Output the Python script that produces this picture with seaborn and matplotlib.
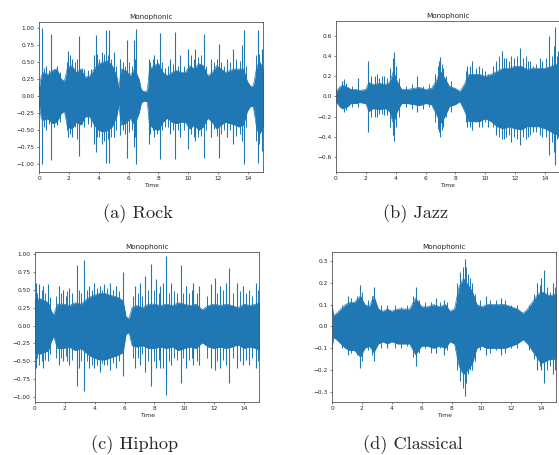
"""
Monophonic waveforms for four genres, drawn as amplitude envelopes plus peaks
"""

import matplotlib
matplotlib.use("Agg")
import matplotlib.pyplot as plt
import seaborn as sns

# Rock: envelope breakpoints (time in s, upper and lower amplitude)
rock_t = [0, 0.15, 0.3, 0.6, 0.9, 1.2, 1.5, 1.7, 1.9, 2.2, 2.5, 2.8, 3.1, 3.4, 3.7,
          4.0, 4.3, 4.6, 4.9, 5.2, 5.35, 5.5, 5.8, 6.1, 6.4, 6.7, 6.85, 7.0, 7.25, 7.4,
          7.7, 8.0, 8.3, 8.6, 8.9, 9.2, 9.5, 9.8, 10.1, 10.4, 10.7, 11.0, 11.3, 11.6,
          11.9, 12.2, 12.5, 12.8, 13.1, 13.4, 13.7, 13.95, 14.15, 14.35, 14.6, 14.8, 15.0]
rock_hi = [0.10, 0.30, 0.35, 0.32, 0.38, 0.40, 0.25, 0.22, 0.42, 0.45, 0.35, 0.40, 0.28,
           0.30, 0.40, 0.48, 0.50, 0.52, 0.45, 0.30, 0.12, 0.40, 0.38, 0.30, 0.40, 0.25,
           0.10, 0.07, 0.08, 0.40, 0.45, 0.48, 0.35, 0.30, 0.35, 0.38, 0.35, 0.35, 0.45,
           0.40, 0.48, 0.45, 0.30, 0.35, 0.45, 0.40, 0.35, 0.38, 0.40, 0.40, 0.40, 0.22,
           0.15, 0.15, 0.45, 0.50, 0.40]
rock_lo = [-0.10, -0.32, -0.35, -0.33, -0.40, -0.38, -0.25, -0.22, -0.45, -0.48, -0.38,
           -0.42, -0.30, -0.30, -0.42, -0.50, -0.52, -0.50, -0.45, -0.30, -0.12, -0.42,
           -0.40, -0.32, -0.42, -0.25, -0.10, -0.07, -0.08, -0.42, -0.48, -0.50, -0.38,
           -0.32, -0.38, -0.40, -0.38, -0.38, -0.48, -0.42, -0.50, -0.45, -0.32, -0.38,
           -0.48, -0.42, -0.38, -0.40, -0.42, -0.45, -0.42, -0.22, -0.15, -0.15, -0.50,
           -0.55, -0.45]
rock_spike_t = [0.18, 0.5, 0.8, 1.2, 1.97, 2.2, 2.68, 3.0, 3.65, 3.8, 4.2, 4.47, 4.7, 5.0,
                5.44, 5.88, 6.33, 6.51, 7.34, 7.7, 8.08, 8.8, 9.13, 9.46, 9.98, 10.47,
                11.03, 11.5, 12.04, 12.6, 13.0, 13.6, 13.71, 14.65, 14.9]
rock_spike_up = [1.0, 0.45, 0.92, 0.45, 0.67, 0.55, 0.88, 0.40, 0.60, 0.90, 0.65, 0.97,
                 0.97, 0.65, 0.55, 0.82, 0.82, 0.98, 0.55, 0.60, 0.93, 0.55, 0.95, 0.60,
                 0.70, 0.70, 0.92, 0.55, 0.77, 0.55, 0.70, 0.75, 0.97, 0.97, 0.70]
rock_spike_dn = [-1.0, -0.50, -0.93, -0.42, -0.60, -0.60, -0.87, -0.45, -0.70, -0.82,
                 -0.70, -0.98, -0.98, -0.60, -0.57, -0.90, -0.75, -1.0, -0.70, -0.60,
                 -0.92, -0.55, -0.92, -0.60, -0.78, -0.65, -0.90, -0.60, -0.90, -0.60,
                 -0.70, -0.65, -1.0, -0.98, -0.80]
# smaller peaks that roughen the body
rock_mid_t = [0.35, 0.65, 1.0, 1.4, 1.85, 2.1, 2.4, 2.55, 2.9, 3.3, 3.5, 3.9, 4.05, 4.35,
              4.6, 4.85, 5.15, 5.6, 5.75, 6.05, 6.2, 6.42, 7.45, 7.6, 7.9, 8.25, 8.45,
              8.65, 9.0, 9.3, 9.7, 10.2, 10.35, 10.65, 10.85, 11.2, 11.7, 11.9, 12.2,
              12.4, 12.8, 13.2, 13.45, 13.85, 14.5, 14.75, 15.0]
rock_mid_up = [0.42, 0.38, 0.40, 0.35, 0.50, 0.60, 0.50, 0.55, 0.42, 0.38, 0.40, 0.62,
               0.55, 0.62, 0.60, 0.55, 0.45, 0.50, 0.45, 0.50, 0.45, 0.55, 0.50, 0.55,
               0.55, 0.50, 0.42, 0.45, 0.48, 0.45, 0.45, 0.60, 0.55, 0.58, 0.60, 0.45,
               0.50, 0.55, 0.50, 0.45, 0.50, 0.55, 0.52, 0.45, 0.60, 0.62, 0.55]
rock_mid_dn = [-0.45, -0.40, -0.45, -0.38, -0.50, -0.55, -0.45, -0.62, -0.40, -0.40,
               -0.45, -0.60, -0.60, -0.65, -0.62, -0.60, -0.50, -0.50, -0.55, -0.52,
               -0.50, -0.60, -0.55, -0.50, -0.55, -0.50, -0.45, -0.45, -0.50, -0.50,
               -0.50, -0.55, -0.60, -0.60, -0.58, -0.50, -0.48, -0.58, -0.55, -0.50,
               -0.50, -0.58, -0.55, -0.45, -0.65, -0.70, -0.60]

# Jazz
jazz_t = [0, 0.3, 0.5, 0.8, 1.0, 1.3, 1.6, 2.0, 2.2, 2.5, 2.9, 3.3, 3.6, 3.85, 4.1, 4.4,
          4.8, 5.2, 5.6, 6.0, 6.4, 6.7, 7.0, 7.3, 7.6, 8.0, 8.3, 8.6, 8.9, 9.2, 9.6, 10.0,
          10.4, 10.8, 11.2, 11.6, 12.0, 12.4, 12.8, 13.2, 13.6, 14.0, 14.4, 14.7, 15.0]
jazz_hi = [0.05, 0.10, 0.11, 0.09, 0.07, 0.07, 0.06, 0.07, 0.14, 0.12, 0.13, 0.12, 0.14,
           0.25, 0.15, 0.07, 0.07, 0.08, 0.09, 0.07, 0.08, 0.15, 0.25, 0.18, 0.10, 0.08,
           0.05, 0.12, 0.22, 0.22, 0.22, 0.20, 0.22, 0.25, 0.28, 0.28, 0.30, 0.30, 0.27,
           0.28, 0.28, 0.28, 0.30, 0.32, 0.30]
jazz_lo = [-0.05, -0.11, -0.12, -0.10, -0.07, -0.07, -0.06, -0.07, -0.15, -0.12, -0.13,
           -0.12, -0.15, -0.27, -0.15, -0.07, -0.07, -0.08, -0.09, -0.07, -0.08, -0.17,
           -0.27, -0.20, -0.10, -0.08, -0.05, -0.14, -0.25, -0.25, -0.25, -0.22, -0.25,
           -0.30, -0.32, -0.30, -0.32, -0.33, -0.30, -0.30, -0.30, -0.32, -0.35, -0.38,
           -0.35]
jazz_spike_t = [0.4, 0.56, 1.45, 2.15, 2.6, 2.9, 3.2, 3.8, 3.9, 4.0, 5.4, 6.9, 6.95, 7.2,
                8.8, 9.14, 9.6, 10.2, 10.7, 11.1, 11.4, 11.75, 12.3, 12.86, 13.2, 13.64,
                14.27, 14.7, 14.9]
jazz_spike_up = [0.15, 0.17, 0.18, 0.35, 0.20, 0.18, 0.20, 0.38, 0.44, 0.30, 0.20, 0.35,
                 0.39, 0.28, 0.30, 0.35, 0.30, 0.22, 0.35, 0.45, 0.38, 0.40, 0.48, 0.35,
                 0.30, 0.38, 0.60, 0.69, 0.45]
jazz_spike_dn = [-0.12, -0.15, -0.10, -0.35, -0.20, -0.17, -0.18, -0.38, -0.44, -0.30,
                 -0.15, -0.35, -0.40, -0.30, -0.30, -0.33, -0.30, -0.30, -0.38, -0.42,
                 -0.40, -0.45, -0.48, -0.40, -0.35, -0.38, -0.58, -0.68, -0.40]
jazz_mid_t = [0.7, 1.1, 2.35, 2.75, 3.05, 3.45, 3.65, 4.2, 4.7, 5.1, 5.8, 6.2, 6.6, 6.8,
              7.1, 7.4, 7.7, 8.7, 9.0, 9.35, 9.8, 10.0, 10.5, 10.9, 11.25, 11.6, 11.9,
              12.1, 12.5, 12.7, 13.0, 13.4, 13.8, 14.05, 14.45, 14.6, 14.8]
jazz_mid_up = [0.13, 0.10, 0.20, 0.22, 0.20, 0.18, 0.28, 0.18, 0.10, 0.12, 0.10, 0.12,
               0.22, 0.30, 0.32, 0.20, 0.15, 0.25, 0.30, 0.28, 0.28, 0.25, 0.30, 0.40,
               0.38, 0.35, 0.38, 0.40, 0.38, 0.40, 0.35, 0.32, 0.35, 0.38, 0.40, 0.50,
               0.40]
jazz_mid_dn = [-0.13, -0.10, -0.20, -0.20, -0.17, -0.18, -0.30, -0.20, -0.10, -0.12,
               -0.12, -0.10, -0.25, -0.32, -0.33, -0.20, -0.15, -0.25, -0.30, -0.25,
               -0.30, -0.25, -0.30, -0.40, -0.42, -0.38, -0.40, -0.42, -0.40, -0.42,
               -0.38, -0.35, -0.40, -0.40, -0.45, -0.55, -0.42]

# Hiphop
hiphop_t = [0, 0.3, 0.6, 0.9, 1.1, 1.25, 1.5, 1.9, 2.3, 2.7, 3.1, 3.5, 3.9, 4.3, 4.7,
            5.1, 5.5, 5.9, 6.1, 6.3, 6.5, 6.8, 7.2, 7.6, 8.0, 8.4, 8.8, 9.2, 9.6, 10.0,
            10.4, 10.8, 11.2, 11.6, 12.0, 12.4, 12.8, 13.2, 13.6, 14.0, 14.4, 14.8, 15.0]
hiphop_hi = [0.35, 0.38, 0.35, 0.32, 0.20, 0.15, 0.30, 0.30, 0.28, 0.32, 0.30, 0.38,
             0.42, 0.45, 0.45, 0.42, 0.40, 0.35, 0.12, 0.10, 0.25, 0.28, 0.25, 0.30,
             0.30, 0.28, 0.30, 0.28, 0.32, 0.30, 0.28, 0.30, 0.22, 0.28, 0.30, 0.28,
             0.30, 0.28, 0.25, 0.30, 0.28, 0.30, 0.32]
hiphop_lo = [-0.38, -0.40, -0.38, -0.35, -0.22, -0.15, -0.32, -0.32, -0.30, -0.35,
             -0.32, -0.40, -0.45, -0.48, -0.48, -0.45, -0.42, -0.38, -0.12, -0.10,
             -0.28, -0.30, -0.28, -0.32, -0.32, -0.30, -0.32, -0.30, -0.35, -0.32,
             -0.30, -0.32, -0.24, -0.30, -0.32, -0.30, -0.32, -0.30, -0.27, -0.32,
             -0.30, -0.32, -0.35]
hiphop_spike_t = [0.05, 0.3, 0.55, 0.9, 1.6, 1.85, 2.3, 2.78, 2.95, 3.29, 3.6, 3.95, 4.35,
                  4.6, 5.0, 5.45, 5.89, 6.7, 7.0, 7.35, 7.78, 8.1, 8.4, 8.6, 8.78, 9.1,
                  9.78, 10.1, 10.6, 11.0, 11.8, 12.05, 12.4, 12.8, 13.0, 13.5, 13.9,
                  14.3, 14.8]
hiphop_spike_up = [0.60, 0.58, 0.55, 0.58, 0.55, 0.50, 0.52, 0.85, 0.50, 0.92, 0.55,
                   0.60, 0.55, 0.58, 0.60, 0.55, 0.75, 0.55, 0.60, 0.70, 0.86, 0.65,
                   0.55, 0.60, 0.97, 0.60, 0.85, 0.55, 0.60, 0.55, 0.58, 0.67, 0.55,
                   0.60, 0.80, 0.60, 0.55, 0.50, 0.60]
hiphop_spike_dn = [-0.60, -0.55, -0.60, -0.50, -0.55, -0.50, -0.55, -0.85, -0.60, -0.92,
                   -0.60, -0.60, -0.65, -0.55, -0.62, -0.60, -0.70, -0.60, -0.55, -0.65,
                   -0.85, -0.60, -0.60, -0.60, -0.97, -0.55, -0.80, -0.60, -0.55, -0.55,
                   -0.60, -0.62, -0.60, -0.55, -0.80, -0.60, -0.55, -0.55, -0.60]
hiphop_mid_t = [0.15, 0.45, 0.7, 1.0, 1.4, 1.75, 2.05, 2.15, 2.5, 3.1, 3.45, 3.8, 4.15,
                4.5, 4.8, 5.2, 5.6, 6.55, 6.9, 7.15, 7.6, 7.95, 8.3, 8.95, 9.3, 9.5, 9.9,
                10.3, 10.5, 10.85, 11.5, 12.2, 12.6, 13.25, 13.7, 14.1, 14.55, 14.95]
hiphop_mid_up = [0.45, 0.50, 0.45, 0.40, 0.42, 0.45, 0.42, 0.48, 0.45, 0.45, 0.50, 0.50,
                 0.52, 0.50, 0.52, 0.50, 0.48, 0.42, 0.45, 0.42, 0.50, 0.50, 0.45, 0.45,
                 0.48, 0.45, 0.45, 0.45, 0.50, 0.45, 0.42, 0.45, 0.50, 0.45, 0.48, 0.45,
                 0.42, 0.50]
hiphop_mid_dn = [-0.45, -0.50, -0.48, -0.40, -0.45, -0.45, -0.42, -0.50, -0.48, -0.50,
                 -0.50, -0.55, -0.55, -0.52, -0.55, -0.52, -0.50, -0.45, -0.45, -0.40,
                 -0.50, -0.50, -0.48, -0.50, -0.45, -0.48, -0.45, -0.48, -0.45, -0.50,
                 -0.45, -0.50, -0.48, -0.45, -0.50, -0.48, -0.45, -0.50]

# Classical
classical_t = [0, 0.1, 0.3, 0.6, 0.9, 1.2, 1.5, 1.9, 2.2, 2.5, 2.8, 3.1, 3.4, 3.7, 4.0,
               4.4, 4.8, 5.2, 5.6, 6.0, 6.4, 6.8, 7.2, 7.6, 7.9, 8.2, 8.5, 8.8, 9.1, 9.4,
               9.7, 10.0, 10.4, 10.8, 11.2, 11.6, 12.0, 12.4, 12.8, 13.1, 13.4, 13.7,
               14.0, 14.3, 14.6, 15.0]
classical_hi = [0.10, 0.05, 0.06, 0.08, 0.10, 0.11, 0.11, 0.14, 0.10, 0.09, 0.14, 0.08,
                0.07, 0.08, 0.07, 0.08, 0.08, 0.08, 0.13, 0.09, 0.09, 0.10, 0.09, 0.10,
                0.07, 0.08, 0.18, 0.22, 0.19, 0.16, 0.10, 0.09, 0.10, 0.10, 0.10, 0.10,
                0.09, 0.08, 0.06, 0.08, 0.11, 0.14, 0.16, 0.15, 0.14, 0.15]
classical_lo = [-0.10, -0.05, -0.06, -0.08, -0.10, -0.11, -0.11, -0.14, -0.10, -0.09,
                -0.12, -0.08, -0.07, -0.08, -0.07, -0.08, -0.08, -0.08, -0.13, -0.09,
                -0.09, -0.10, -0.09, -0.10, -0.07, -0.08, -0.18, -0.22, -0.20, -0.17,
                -0.10, -0.09, -0.10, -0.10, -0.10, -0.10, -0.09, -0.08, -0.06, -0.08,
                -0.11, -0.14, -0.17, -0.16, -0.15, -0.15]
classical_spike_t = [1.1, 1.9, 2.8, 3.7, 5.6, 6.95, 7.5, 8.6, 8.88, 9.1, 9.4, 10.3, 11.3,
                     13.7, 14.0, 14.2, 14.8]
classical_spike_up = [0.14, 0.19, 0.18, 0.10, 0.18, 0.13, 0.12, 0.25, 0.31, 0.24, 0.20,
                      0.14, 0.13, 0.20, 0.22, 0.26, 0.20]
classical_spike_dn = [-0.13, -0.19, -0.16, -0.10, -0.18, -0.12, -0.13, -0.25, -0.32,
                      -0.22, -0.20, -0.13, -0.13, -0.20, -0.20, -0.26, -0.22]
classical_mid_t = [0.7, 1.3, 1.7, 2.0, 2.4, 2.65, 3.3, 4.2, 4.6, 5.0, 5.45, 5.8, 6.2,
                   6.6, 7.2, 7.7, 8.4, 8.75, 9.0, 9.25, 9.55, 9.9, 10.6, 11.0, 11.6,
                   12.0, 12.4, 13.2, 13.5, 13.9, 14.4, 14.6, 14.95]
classical_mid_up = [0.10, 0.13, 0.14, 0.16, 0.12, 0.14, 0.10, 0.10, 0.09, 0.10, 0.14,
                    0.12, 0.11, 0.11, 0.11, 0.11, 0.20, 0.27, 0.27, 0.22, 0.15, 0.12,
                    0.12, 0.12, 0.12, 0.10, 0.10, 0.10, 0.15, 0.19, 0.18, 0.16, 0.18]
classical_mid_dn = [-0.10, -0.12, -0.13, -0.16, -0.11, -0.13, -0.10, -0.10, -0.10,
                    -0.09, -0.14, -0.12, -0.10, -0.12, -0.10, -0.11, -0.20, -0.28,
                    -0.26, -0.20, -0.16, -0.11, -0.12, -0.11, -0.12, -0.10, -0.10,
                    -0.11, -0.15, -0.18, -0.20, -0.18, -0.20]

captions = ["(a) Rock", "(b) Jazz", "(c) Hiphop", "(d) Classical"]

WAVE = "#1f77b4"


def draw_wave(ax, env, peaks, mids, ylim):
    t, hi, lo = env
    ax.fill_between(t, lo, hi, color=WAVE, lw=0)
    sns.lineplot(x=t, y=hi, ax=ax, color=WAVE, lw=0.5)
    sns.lineplot(x=t, y=lo, ax=ax, color=WAVE, lw=0.5)
    # mid-size peaks, then the tall ones
    ax.vlines(mids[0], mids[2], mids[1], color=WAVE, lw=0.7)
    ax.vlines(peaks[0], peaks[2], peaks[1], color=WAVE, lw=0.8)
    ax.set_xlim(0, 15)
    ax.set_ylim(*ylim)
    ax.set_title("Monophonic", fontsize=5.2, pad=2.5)
    ax.set_xlabel("Time", fontsize=4.3, labelpad=1)
    ax.set_ylabel("")
    ax.set_xticks(range(0, 15, 2))
    ax.tick_params(labelsize=4.2, length=1.6, width=0.4, pad=1.5)
    for sp in ax.spines.values():
        sp.set_linewidth(0.5)
        sp.set_color("#333333")


if __name__ == "__main__":
    sns.set_style("ticks")
    plt.rcParams["font.family"] = ["DejaVu Sans"]

    fig = plt.figure(figsize=(5.59, 4.55), dpi=100)

    ax_a = fig.add_axes([0.0698, 0.622, 0.4007, 0.3297])
    ax_b = fig.add_axes([0.601, 0.622, 0.4007, 0.3319])
    ax_c = fig.add_axes([0.0626, 0.1165, 0.4007, 0.3297])
    ax_d = fig.add_axes([0.594, 0.1165, 0.4007, 0.3297])

    draw_wave(ax_a, (rock_t, rock_hi, rock_lo),
              (rock_spike_t, rock_spike_up, rock_spike_dn),
              (rock_mid_t, rock_mid_up, rock_mid_dn), (-1.11, 1.09))
    draw_wave(ax_b, (jazz_t, jazz_hi, jazz_lo),
              (jazz_spike_t, jazz_spike_up, jazz_spike_dn),
              (jazz_mid_t, jazz_mid_up, jazz_mid_dn), (-0.75, 0.75))
    draw_wave(ax_c, (hiphop_t, hiphop_hi, hiphop_lo),
              (hiphop_spike_t, hiphop_spike_up, hiphop_spike_dn),
              (hiphop_mid_t, hiphop_mid_up, hiphop_mid_dn), (-1.07, 1.03))
    draw_wave(ax_d, (classical_t, classical_hi, classical_lo),
              (classical_spike_t, classical_spike_up, classical_spike_dn),
              (classical_mid_t, classical_mid_up, classical_mid_dn), (-0.346, 0.341))

    # sub-figure captions, LaTeX-like serif
    cap_pos = [(0.247, 0.5297), (0.744, 0.5297), (0.2415, 0.022), (0.739, 0.022)]
    for (x, y), cap in zip(cap_pos, captions):
        fig.text(x, y, cap, family="cmr10", fontsize=13.2, ha="center", va="center")

    fig.savefig("out.png", dpi=100)
    plt.close(fig)
